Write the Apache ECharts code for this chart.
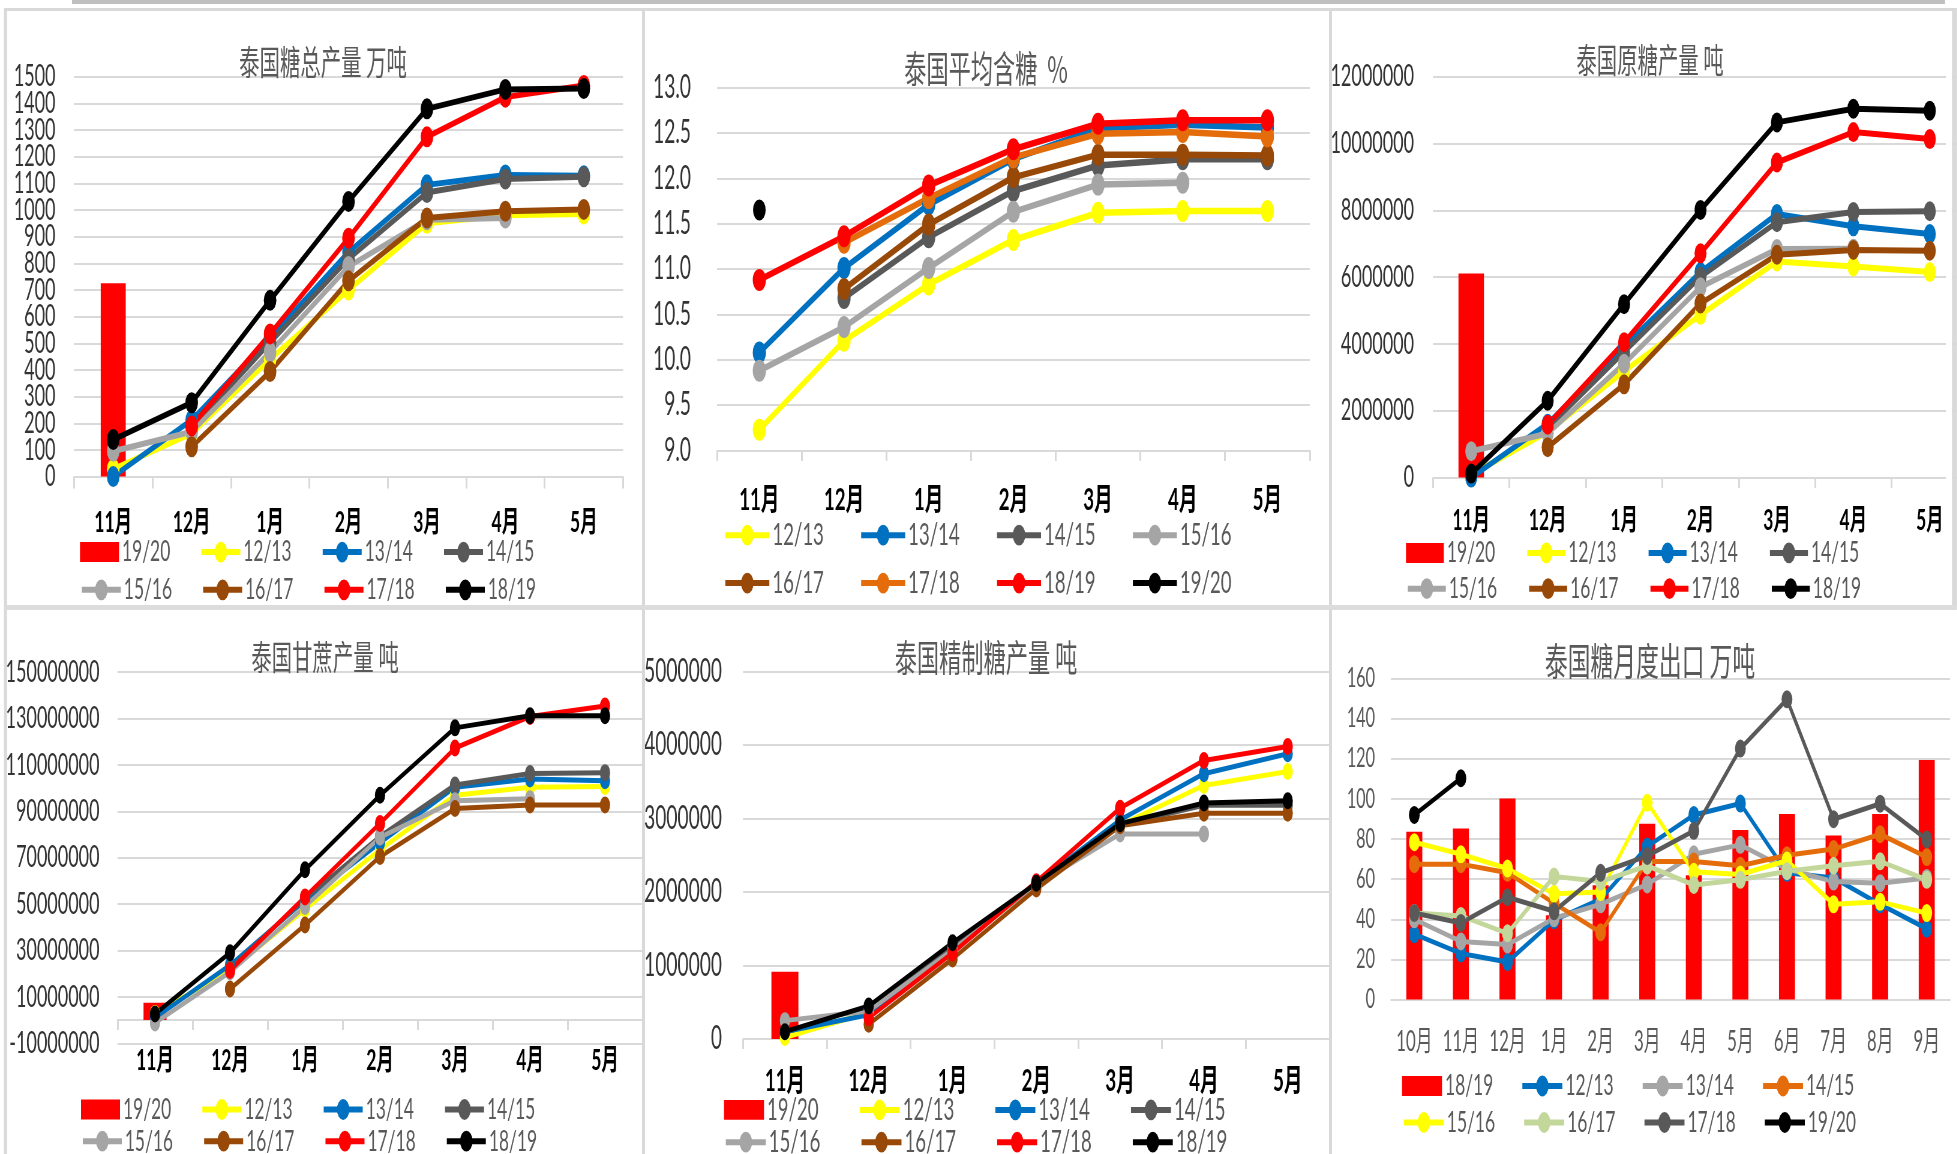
<!DOCTYPE html>
<html>
<head>
<meta charset="utf-8">
<title>泰国糖生产与出口</title>
<script src="https://cdn.jsdelivr.net/npm/echarts@6/dist/echarts.min.js"></script>
<style>
  html, body { margin: 0; padding: 0; background: #fff; overflow: hidden; }
  #wrap { width: 1957px; height: 1154px; overflow: hidden; position: relative; }
  /* the dashboard is laid out wide and drawn condensed horizontally */
  #chart { width: 3262px; height: 1154px; transform: scaleX(0.6); transform-origin: 0 0; }
</style>
</head>
<body>
<div id="wrap"><div id="chart"></div></div>
<script>
// ---------- categories ----------
const seasonMonths = ['11月', '12月', '1月', '2月', '3月', '4月', '5月'];
const exportMonths = ['10月', '11月', '12月', '1月', '2月', '3月', '4月', '5月', '6月', '7月', '8月', '9月'];

// ---------- 泰国糖总产量 (万吨) ----------
const total1920 = [725];
const total1213 = [28, 162, 440, 700, 950, 980, 985];
const total1314 = [0, 212, 521, 842, 1094, 1131, 1128];
const total1415 = [null, 182, 503, 817, 1065, 1116, 1124];
const total1516 = [95, 168, 467, 788, 963, 970, null];
const total1617 = [null, 112, 394, 734, 970, 995, 1002];
const total1718 = [null, 190, 535, 894, 1274, 1423, 1467];
const total1819 = [139, 277, 661, 1032, 1379, 1452, 1455];

// ---------- 泰国平均含糖 (%) ----------
const sugar1213 = [9.23, 10.21, 10.83, 11.32, 11.62, 11.64, 11.64];
const sugar1314 = [10.08, 11.01, 11.71, 12.21, 12.55, 12.59, 12.56];
const sugar1415 = [null, 10.68, 11.35, 11.86, 12.14, 12.21, 12.21];
const sugar1516 = [9.88, 10.36, 11.01, 11.63, 11.93, 11.95, null];
const sugar1617 = [null, 10.78, 11.49, 12.01, 12.26, 12.26, 12.25];
const sugar1718 = [null, 11.29, 11.78, 12.23, 12.49, 12.51, 12.46];
const sugar1819 = [10.88, 11.36, 11.92, 12.32, 12.60, 12.64, 12.64];
const sugar1920 = [11.65];

// ---------- 泰国原糖产量 (吨) ----------
const raw1920 = [6110000];
const raw1213 = [90000, 1370000, 3180000, 4870000, 6470000, 6320000, 6150000];
const raw1314 = [0, 1610000, 3930000, 6150000, 7890000, 7520000, 7290000];
const raw1415 = [null, 1490000, 3760000, 6010000, 7640000, 7950000, 7970000];
const raw1516 = [790000, 1320000, 3410000, 5700000, 6840000, 6850000, null];
const raw1617 = [null, 910000, 2790000, 5210000, 6670000, 6810000, 6790000];
const raw1718 = [null, 1580000, 4050000, 6710000, 9430000, 10340000, 10130000];
const raw1819 = [120000, 2300000, 5190000, 8010000, 10630000, 11040000, 10980000];

// ---------- 泰国甘蔗产量 (吨) ----------
const cane1920 = [7500000];
const cane1213 = [2900000, 21400000, 47800000, 73500000, 96900000, 100400000, 100700000];
const cane1314 = [1000000, 23700000, 51600000, 76500000, 100400000, 104000000, 103200000];
const cane1415 = [null, 22200000, 52400000, 79200000, 101400000, 106300000, 106700000];
const cane1516 = [-1200000, 20700000, 49000000, 78800000, 94600000, 95400000, null];
const cane1617 = [null, 13400000, 41000000, 70500000, 91200000, 92700000, 92700000];
const cane1718 = [null, 21400000, 53100000, 84800000, 117300000, 130900000, 135400000];
const cane1819 = [2600000, 29000000, 64800000, 96900000, 126000000, 131200000, 131200000];

// ---------- 泰国精制糖产量 (吨) ----------
const refined1920 = [914000];
const refined1213 = [20000, 360000, 1210000, 2100000, 2910000, 3450000, 3640000];
const refined1314 = [100000, 330000, 1260000, 2120000, 2980000, 3610000, 3880000];
const refined1415 = [null, 380000, 1240000, 2120000, 2910000, 3180000, 3180000];
const refined1516 = [250000, 380000, 1210000, 2100000, 2790000, 2790000, null];
const refined1617 = [null, 200000, 1090000, 2040000, 2900000, 3070000, 3070000];
const refined1718 = [null, 290000, 1170000, 2140000, 3140000, 3790000, 3980000];
const refined1819 = [100000, 450000, 1310000, 2120000, 2930000, 3210000, 3240000];

// ---------- 泰国糖月度出口 (万吨) ----------
const export1819 = [83.6, 85.3, 100.2, 42, 57, 87.6, 62, 84.5, 92.5, 81.8, 92.5, 119.4];
const export1213 = [32.6, 23, 18.7, 39.6, 50, 76.3, 92, 97.7, 63.2, 60.6, 47.5, 35.3];
const export1314 = [40, 29, 27.4, 40.5, 47.5, 57.4, 72.4, 77.1, 65, 58.8, 58, 60.6];
const export1415 = [67.5, 67.5, 63.2, 48, 33.5, 68.8, 68.8, 66.7, 71.9, 75, 82.4, 71];
const export1516 = [78.4, 72.4, 65.3, 52.7, 53.6, 98.1, 63.7, 62.3, 69.3, 47.5, 48.7, 43.1];
const export1617 = [43.1, 41.7, 33, 61.4, 58.8, 66.7, 57.1, 59.7, 64, 66.7, 68.9, 59.7];
const export1718 = [43.1, 38.2, 51, 44, 63.2, 71.6, 84.1, 125.1, 149.6, 89.9, 97.6, 79.8];
const export1920 = [92, 110.3];

// ---------- drawing helpers ----------
const SQUEEZE = 0.6;              // horizontal condensing applied to the whole canvas
const sx = v => v / SQUEEZE;      // page x (px) -> canvas x
const FONT = "Lato, 'Noto Sans CJK SC', sans-serif";
const CJK = "'Noto Sans CJK SC', 'Noto Sans', sans-serif";
const GRID_GREY = '#D9D9D9';
const LEG_TEXT_W = 120;
const LEG_ITEM_H = 26;
// bar swatch: a filled band inside an invisible full-height frame, as wide as the icon box
const barSwatch = w => `path://M0 0L1 0M0 3L${w} 3L${w} 23L0 23ZM0 26L1 26`;

const COLORS = {
  red: '#FF0000', yellow: '#FFFF00', blue: '#0070C0', dark: '#595959',
  grey: '#A5A5A5', brown: '#984807', orange: '#E46C0A', black: '#000000', green: '#C4D79B'
};

const plainNumber = v => String(v);

const panels = [
  {
    key: 'total', title: '泰国糖总产量 万吨', tx: 323, ty: 62, tsize: 34,
    grid: [74, 76.6, 549, 400], months: seasonMonths,
    // ticks are tight here: even and odd hundreds are labelled by two stacked axes
    y: { min: 0, max: 1500, interval: 100 }, ylab: { size: 30, margin: 18.5, color: '#333333', split: true },
    xlab: { size: 29, margin: 32, bold: true, color: '#000000' }, tick: 12,
    sym: 21, lw: 6, barW: 25,
    legend: { x: 80, rows: [551.6, 589.3], iw: 39, pitch: 143.3, size: 29 },
    series: [
      ['19/20', total1920, 'red', 'bar'], ['12/13', total1213, 'yellow'], ['13/14', total1314, 'blue'], ['14/15', total1415, 'dark'],
      ['15/16', total1516, 'grey'], ['16/17', total1617, 'brown'], ['17/18', total1718, 'red'], ['18/19', total1819, 'black']
    ]
  },
  {
    key: 'sugar', title: '泰国平均含糖  %', tx: 986, ty: 69, tsize: 37,
    grid: [717, 87.5, 592.7, 363], months: seasonMonths,
    y: { min: 9, max: 13, interval: 0.5 }, ylab: { size: 32, margin: 26, color: '#333333', fmt: v => v.toFixed(1) },
    xlab: { size: 31, margin: 34, bold: true, color: '#000000' }, tick: 10.5,
    sym: 22, lw: 6.5, dot: 21,
    legend: { x: 723.5, rows: [533.7, 581.6], iw: 44, pitch: 154.5, size: 31 },
    series: [
      ['12/13', sugar1213, 'yellow'], ['13/14', sugar1314, 'blue'], ['14/15', sugar1415, 'dark'], ['15/16', sugar1516, 'grey'],
      ['16/17', sugar1617, 'brown'], ['17/18', sugar1718, 'orange'], ['18/19', sugar1819, 'red'], ['19/20', sugar1920, 'black', 'dot']
    ]
  },
  {
    key: 'raw', title: '泰国原糖产量 吨', tx: 1650, ty: 60, tsize: 34,
    grid: [1433, 76.6, 535, 401], months: seasonMonths,
    y: { min: 0, max: 12000000, interval: 2000000 }, ylab: { size: 30, margin: 19, color: '#333333', fmt: plainNumber },
    xlab: { size: 29, margin: 29, bold: true, color: '#000000' }, tick: 10.5,
    sym: 20, lw: 6, barW: 25.5,
    legend: { x: 1406, rows: [552.4, 588.2], iw: 38, pitch: 143.3, size: 29 },
    series: [
      ['19/20', raw1920, 'red', 'bar'], ['12/13', raw1213, 'yellow'], ['13/14', raw1314, 'blue'], ['14/15', raw1415, 'dark'],
      ['15/16', raw1516, 'grey'], ['16/17', raw1617, 'brown'], ['17/18', raw1718, 'red'], ['18/19', raw1819, 'black']
    ]
  },
  {
    key: 'cane', title: '泰国甘蔗产量 吨', tx: 325, ty: 657.5, tsize: 34,
    grid: [117.5, 672.2, 525, 371.1], months: seasonMonths, zeroLine: true,
    y: { min: -10000000, max: 150000000, interval: 20000000 }, ylab: { size: 30, margin: 18, color: '#333333', fmt: plainNumber },
    xlab: { size: 29, margin: 3, bold: true, color: '#000000' }, tick: 10,
    sym: 17, lw: 5, barW: 23,
    legend: { x: 81, rows: [1109, 1140.7], iw: 39, pitch: 143.3, size: 29 },
    series: [
      ['19/20', cane1920, 'red', 'bar'], ['12/13', cane1213, 'yellow'], ['13/14', cane1314, 'blue'], ['14/15', cane1415, 'dark'],
      ['15/16', cane1516, 'grey'], ['16/17', cane1617, 'brown'], ['17/18', cane1718, 'red'], ['18/19', cane1819, 'black']
    ]
  },
  {
    key: 'refined', title: '泰国精制糖产量 吨', tx: 986, ty: 657.5, tsize: 37,
    grid: [743, 671.5, 586.6, 367.5], months: seasonMonths,
    y: { min: 0, max: 5000000, interval: 1000000 }, ylab: { size: 32, margin: 21, color: '#333333', fmt: plainNumber },
    xlab: { size: 31, margin: 26, bold: true, color: '#000000' }, tick: 10,
    sym: 17, lw: 5, barW: 27,
    legend: { x: 724, rows: [1108.4, 1140.7], iw: 40, pitch: 154.3, size: 31 },
    series: [
      ['19/20', refined1920, 'red', 'bar'], ['12/13', refined1213, 'yellow'], ['13/14', refined1314, 'blue'], ['14/15', refined1415, 'dark'],
      ['15/16', refined1516, 'grey'], ['16/17', refined1617, 'brown'], ['17/18', refined1718, 'red'], ['18/19', refined1819, 'black']
    ]
  },
  {
    key: 'export', title: '泰国糖月度出口 万吨', tx: 1650, ty: 661, tsize: 38,
    grid: [1391, 678.5, 559, 321.1], months: exportMonths,
    y: { min: 0, max: 160, interval: 20 }, ylab: { size: 27, margin: 16, color: '#595959' },
    xlab: { size: 28, margin: 28.5, bold: false, color: '#595959' }, tick: 0,
    sym: 18, lw: 5, barW: 16,
    legend: { x: 1402, rows: [1085.5, 1122], iw: 40, pitch: 142.3, size: 29 },
    series: [
      ['18/19', export1819, 'red', 'bar'], ['12/13', export1213, 'blue'], ['13/14', export1314, 'grey'], ['14/15', export1415, 'orange'],
      ['15/16', export1516, 'yellow'], ['16/17', export1617, 'green'], ['17/18', export1718, 'dark'], ['19/20', export1920, 'black']
    ]
  }
];

// panel frames: [x, y, width, height, colour] in page px
const frames = [
  [72, 0, 1873, 4, '#BFBFBF'],
  [5, 8, 1952, 3, GRID_GREY],
  [4, 8, 3, 1146, GRID_GREY],
  [642, 8, 3, 1146, GRID_GREY],
  [1329, 8, 3, 1146, GRID_GREY],
  [5, 605, 1952, 5, '#DCDCDC'],
  [1946, 12, 6, 592, '#FFFFFF'],
  [1952, 8, 5, 597, GRID_GREY]
];

const option = {
  animation: false,
  backgroundColor: '#FFFFFF',
  grid: [], xAxis: [], yAxis: [], legend: [], series: [], graphic: []
};

panels.forEach((p, gi) => {
  const [gl, gt, gw, gh] = p.grid;
  option.grid.push({ left: sx(gl), top: gt, width: sx(gw), height: gh, containLabel: false, outerBoundsMode: 'none' });

  const axisLineStyle = { color: GRID_GREY, width: 2 };
  const tickStyle = { color: GRID_GREY, width: 3 };
  const xi = option.xAxis.length;
  option.xAxis.push({
    type: 'category', gridIndex: gi, data: p.months, position: 'bottom', boundaryGap: true,
    axisLine: { show: !p.zeroLine, onZero: false, lineStyle: axisLineStyle },
    axisTick: { show: !p.zeroLine && p.tick > 0, length: p.tick, lineStyle: tickStyle },
    axisLabel: {
      interval: 0, margin: p.xlab.margin, fontSize: p.xlab.size, color: p.xlab.color,
      fontWeight: p.xlab.bold ? 'bold' : 'normal', fontFamily: FONT, hideOverlap: false
    },
    splitLine: { show: false }
  });
  if (p.zeroLine) {
    // category line crossing the value axis at zero, ticks hanging below it
    option.xAxis.push({
      type: 'category', gridIndex: gi, data: p.months, position: 'bottom', boundaryGap: true,
      axisLine: { show: true, onZero: true, lineStyle: axisLineStyle },
      axisTick: { show: true, length: p.tick, lineStyle: tickStyle },
      axisLabel: { show: false }, splitLine: { show: false }
    });
  }

  const fmt = p.ylab.fmt || plainNumber;
  const yLabel = formatter => ({
    margin: sx(p.ylab.margin), fontSize: p.ylab.size, color: p.ylab.color, fontFamily: FONT,
    showMinLabel: true, showMaxLabel: true, hideOverlap: false, formatter
  });
  const yi = option.yAxis.length;
  const isEvenTick = v => Math.round((v - p.y.min) / p.y.interval) % 2 === 0;
  option.yAxis.push({
    type: 'value', gridIndex: gi, min: p.y.min, max: p.y.max, interval: p.y.interval,
    position: 'left', axisLine: { show: false }, axisTick: { show: false },
    splitLine: { show: true, lineStyle: { color: GRID_GREY, width: 2 } },
    axisLabel: yLabel(p.ylab.split ? (v => isEvenTick(v) ? fmt(v) : '') : fmt)
  });
  if (p.ylab.split) {
    option.yAxis.push({
      type: 'value', gridIndex: gi, min: p.y.min, max: p.y.max, interval: p.y.interval,
      position: 'left', offset: 0, axisLine: { show: false }, axisTick: { show: false },
      splitLine: { show: false },
      axisLabel: yLabel(v => isEvenTick(v) ? '' : fmt(v))
    });
  }

  p.series.forEach(([season, data, colorKey, kind]) => {
    const id = p.key + '|' + season;
    const color = COLORS[colorKey];
    if (kind === 'bar') {
      option.series.push({
        type: 'bar', name: id, xAxisIndex: xi, yAxisIndex: yi, data,
        barWidth: sx(p.barW), itemStyle: { color }, z: 1, silent: true
      });
    } else {
      option.series.push({
        type: 'line', name: id, xAxisIndex: xi, yAxisIndex: yi, data,
        symbol: 'circle', symbolSize: kind === 'dot' ? p.dot : p.sym, showSymbol: true,
        connectNulls: false, lineStyle: { color, width: p.lw }, itemStyle: { color },
        z: 2, silent: true
      });
    }
  });

  const iconW = sx(p.legend.iw);
  p.legend.rows.forEach((cy, r) => {
    const items = p.series.slice(r * 4, r * 4 + 4);
    option.legend.push({
      left: sx(p.legend.x), top: cy - LEG_ITEM_H / 2 - 1, orient: 'horizontal', padding: 0,
      itemWidth: iconW, itemHeight: LEG_ITEM_H,
      itemGap: sx(p.legend.pitch) - iconW - 5 - LEG_TEXT_W,
      selectedMode: false,
      data: items.map(s => s[3] === 'bar'
        ? { name: p.key + '|' + s[0], icon: barSwatch(Math.round(iconW)) }
        : p.key + '|' + s[0]),
      formatter: n => n.split('|')[1],
      lineStyle: { width: 6 },
      textStyle: { color: '#595959', fontSize: p.legend.size, fontFamily: FONT, width: LEG_TEXT_W, overflow: 'none' }
    });
  });

  option.graphic.push({
    type: 'text', x: sx(p.tx), y: p.ty, z: 10, silent: true,
    style: {
      text: p.title, fill: '#595959', fontSize: p.tsize, fontFamily: CJK,
      align: 'center', verticalAlign: 'middle', textAlign: 'center', textVerticalAlign: 'middle'
    }
  });
});

frames.forEach(([x, y, w, h, c]) => {
  option.graphic.push({
    type: 'rect', z: 50, silent: true,
    shape: { x: sx(x), y, width: sx(w), height: h },
    style: { fill: c }
  });
});

const chart = echarts.init(document.getElementById('chart'), null, { renderer: 'canvas' });
chart.setOption(option);
</script>
</body>
</html>
